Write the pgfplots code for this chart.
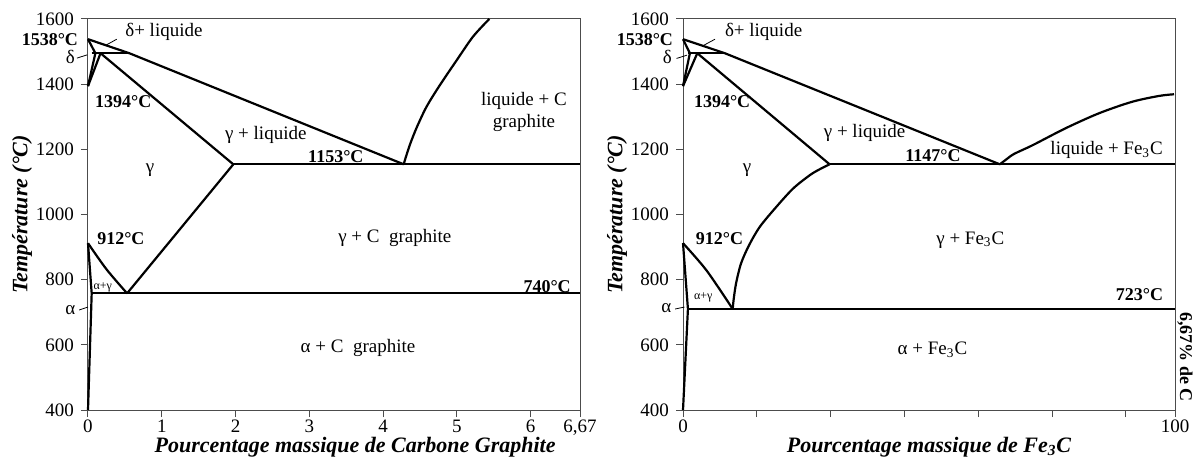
\documentclass[border=0pt]{standalone}
\usepackage{fontspec}
\setmainfont{Liberation Serif}
\usepackage{pgfplots}
\pgfplotsset{compat=1.18}

\pgfplotsset{
  diag/.style={
    scale only axis, width=246pt, height=195.5pt,
    ymin=400, ymax=1600, ytick={400,600,...,1600},
    axis line style={gray!60!black, line width=0.5pt},
    tick align=outside, major tick length=3.5pt,
    tick style={gray!60!black, line width=0.5pt},
    xtick pos=left, ytick pos=left,
    ticklabel style={font=\fontsize{9.5}{11}\selectfont},
    xticklabel style={yshift=2pt},
    /pgf/number format/assume math mode=true,
    /pgf/number format/set thousands separator={},
    every axis y label/.style={at={(axis description cs:-0.134,0.5)}, rotate=90, anchor=center,
      font=\fontsize{11}{13}\selectfont\bfseries\itshape},
    clip=false,
  },
}
\tikzset{
  ph/.style={black, solid, line width=1.1pt, line join=round},
  lbl/.style={font=\fontsize{9.5}{11}\selectfont},
  blbl/.style={font=\fontsize{9}{10}\selectfont\bfseries},
  lead/.style={black, line width=0.4pt},
  xlab/.style={anchor=center, font=\fontsize{11}{13}\selectfont\bfseries\itshape},
}

\begin{document}
\begin{tikzpicture}
\path[use as bounding box] (-44pt,-25.5pt) rectangle (557pt,205pt);

% stable diagram: Fe - C graphite
\begin{axis}[diag, at={(0pt,0pt)}, anchor=south west,
  xmin=0, xmax=6.67,
  xtick={0,1,2,3,4,5,6,6.67}, xticklabels={0,1,2,3,4,5,6,{6,67}},
  ylabel={Température (°C)},
  xlabel={Pourcentage massique de Carbone Graphite},
  every axis x label/.style={xlab, at={(axis description cs:0.543,-0.095)}}]
\addplot[ph] coordinates {(0,1538) (0.56,1495) (4.28,1154)};
\addplot[ph] coordinates {(0.05,1495) (0.56,1495)};
\addplot[ph] coordinates {(0,1538) (0.10,1495)};
\addplot[ph] coordinates {(0,1394) (0.10,1495)};
\addplot[ph] coordinates {(0,1394) (0.17,1495) (1.97,1154)};
\addplot[ph] coordinates {(1.97,1154) (6.67,1154)};
\addplot[ph, smooth] coordinates {(4.28,1154) (4.31,1177) (4.37,1218) (4.46,1269) (4.59,1331) (4.77,1397) (5.00,1474) (5.22,1546) (5.44,1600)};
\addplot[ph] coordinates {(1.97,1154) (0.53,758)};
\addplot[ph, smooth] coordinates {(0,912) (0.25,832) (0.53,758)};
\addplot[ph] coordinates {(0,912) (0.05,758) (0,400)};
\addplot[ph] coordinates {(0.05,758) (6.67,758)};
\addplot[lead] coordinates {(0.39,1538) (0.23,1518)};
\addplot[lead] coordinates {(-0.15,1480) (-0.01,1490)};
\addplot[lead] coordinates {(-0.12,707) (0,716)};
\node[blbl, anchor=east] at (axis cs:-0.04,1538) {1538°C};
\node[lbl, anchor=west] at (axis cs:0.41,1560) {δ+ liquide};
\node[lbl] at (axis cs:-0.24,1483) {δ};
\node[blbl, anchor=west] at (axis cs:0.0,1345) {1394°C};
\node[lbl] at (axis cs:2.41,1244) {γ + liquide};
\node[lbl] at (axis cs:0.84,1136) {γ};
\node[blbl] at (axis cs:3.36,1179) {1153°C};
\node[lbl, align=center] at (axis cs:5.91,1315) {liquide + C\\graphite};
\node[blbl, anchor=west] at (axis cs:0.03,925) {912°C};
\node[lbl] at (axis cs:4.16,928) {γ + C\ \ graphite};
\node[blbl, anchor=east] at (axis cs:6.64,780) {740°C};
\node[font=\fontsize{6}{7}\selectfont] at (axis cs:0.20,777) {α+γ};
\node[lbl] at (axis cs:-0.24,707) {α};
\node[lbl] at (axis cs:3.66,590) {α + C\ \ graphite};
\end{axis}

% metastable diagram: Fe - Fe3C
\begin{axis}[diag, at={(297.5pt,0pt)}, anchor=south west,
  xmin=0, xmax=100,
  xtick={0,15,30,45,60,75,90,100}, xticklabels={0,,,,,,,100},
  ylabel={Température (°C)},
  xlabel={Pourcentage massique de Fe\textsubscript{3}C},
  every axis x label/.style={xlab, at={(axis description cs:0.5,-0.095)}}]
\addplot[ph] coordinates {(0,1538) (8.5,1495) (64.4,1154)};
\addplot[ph] coordinates {(1.0,1495) (8.5,1495)};
\addplot[ph] coordinates {(0,1538) (1.4,1495)};
\addplot[ph] coordinates {(0,1394) (1.4,1495)};
\addplot[ph] coordinates {(0,1394) (2.9,1495) (29.8,1154)};
\addplot[ph] coordinates {(29.8,1154) (100,1154)};
\addplot[ph, smooth] coordinates {(64.4,1154) (65.7,1169) (67.3,1186) (71.1,1213) (77.8,1265) (84.6,1311) (91.3,1346) (96.8,1364) (99.8,1369)};
\addplot[ph, smooth] coordinates {(29.8,1154) (27.8,1139) (25.8,1121) (22.4,1080) (19.0,1024) (15.6,962) (13.4,905) (11.8,850) (10.8,790) (10.3,740) (10.1,710)};
\addplot[ph, smooth] coordinates {(0,912) (4.8,828) (10.1,710)};
\addplot[ph] coordinates {(0,912) (1.0,710) (0,400)};
\addplot[ph] coordinates {(1.0,710) (100,710)};
\addplot[lead] coordinates {(6.5,1538) (4.3,1520)};
\addplot[lead] coordinates {(-1.3,1479) (0.8,1489)};
\addplot[lead] coordinates {(-1.6,710) (0.3,716)};
\node[blbl, anchor=east] at (axis cs:-0.6,1538) {1538°C};
\node[lbl, anchor=west] at (axis cs:7.1,1560) {δ+ liquide};
\node[lbl] at (axis cs:-3.2,1483) {δ};
\node[blbl, anchor=west] at (axis cs:0.8,1345) {1394°C};
\node[lbl] at (axis cs:36.9,1250) {γ + liquide};
\node[lbl] at (axis cs:13.0,1136) {γ};
\node[blbl] at (axis cs:50.8,1180) {1147°C};
\node[lbl] at (axis cs:86.1,1198) {liquide + Fe\textsubscript{3}C};
\node[blbl, anchor=west] at (axis cs:1.2,925) {912°C};
\node[lbl] at (axis cs:58.4,922) {γ + Fe\textsubscript{3}C};
\node[blbl, anchor=east] at (axis cs:99.0,753) {723°C};
\node[font=\fontsize{6}{7}\selectfont] at (axis cs:4.1,747) {α+γ};
\node[lbl] at (axis cs:-3.4,712) {α};
\node[lbl] at (axis cs:50.7,584) {α + Fe\textsubscript{3}C};
\node[blbl, rotate=-90, anchor=south, inner sep=1pt] at (axis cs:100,562) {6,67\% de C};
\end{axis}
\end{tikzpicture}
\end{document}
